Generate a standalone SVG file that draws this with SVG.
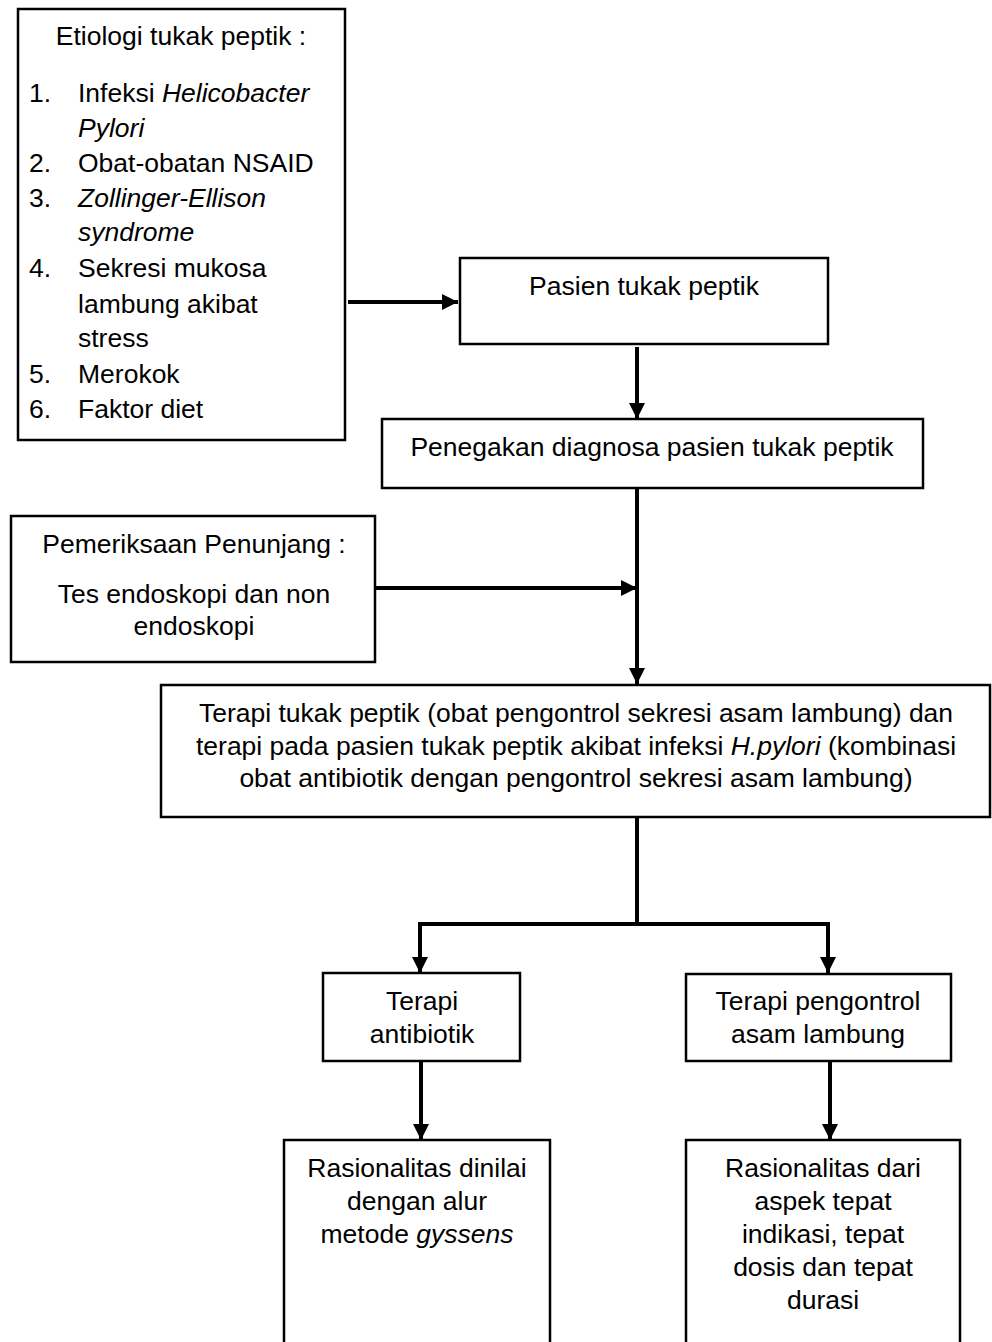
<svg xmlns="http://www.w3.org/2000/svg" width="992" height="1342" viewBox="0 0 992 1342">
<style>
.box{fill:#fff;stroke:#000;stroke-width:2.5}
.t{font-family:"Liberation Sans",Arial,sans-serif;font-size:26.5px;fill:#000}
.c{text-anchor:middle}
.i{font-style:italic}
.conn{fill:none;stroke:#000;stroke-width:4}
</style>
<defs>
<marker id="ah" markerUnits="userSpaceOnUse" markerWidth="16" markerHeight="16" refX="16" refY="8" orient="auto">
<path d="M0,0 L16,8 L0,16 z" fill="#000"/>
</marker>
</defs>
<rect width="992" height="1342" fill="#fff"/>
<g id="connectors">
<line class="conn" x1="348" y1="302" x2="458" y2="302" marker-end="url(#ah)"/>
<line class="conn" x1="637" y1="347" x2="637" y2="419" marker-end="url(#ah)"/>
<line class="conn" x1="637" y1="489" x2="637" y2="684" marker-end="url(#ah)"/>
<line class="conn" x1="376" y1="588" x2="637" y2="588" marker-end="url(#ah)"/>
<polyline class="conn" points="637,817 637,924"/>
<polyline class="conn" points="420,973 420,924 828,924 828,973" marker-end="url(#ah)"/>
<line class="conn" x1="420" y1="926" x2="420" y2="973" marker-end="url(#ah)"/>
<line class="conn" x1="421" y1="1061" x2="421" y2="1140" marker-end="url(#ah)"/>
<line class="conn" x1="830" y1="1062" x2="830" y2="1140" marker-end="url(#ah)"/>
</g>
<g id="etiologi">
<rect class="box" x="18" y="9" width="327" height="431"/>
<text class="t c" x="181" y="45">Etiologi tukak peptik :</text>
<text class="t" x="29" y="102">1.</text>
<text class="t" x="78" y="102">Infeksi <tspan class="i">Helicobacter</tspan></text>
<text class="t i" x="78" y="137">Pylori</text>
<text class="t" x="29" y="172">2.</text>
<text class="t" x="78" y="172">Obat-obatan NSAID</text>
<text class="t" x="29" y="207">3.</text>
<text class="t i" x="78" y="207">Zollinger-Ellison</text>
<text class="t i" x="78" y="241">syndrome</text>
<text class="t" x="29" y="277">4.</text>
<text class="t" x="78" y="277">Sekresi mukosa</text>
<text class="t" x="78" y="313">lambung akibat</text>
<text class="t" x="78" y="347">stress</text>
<text class="t" x="29" y="383">5.</text>
<text class="t" x="78" y="383">Merokok</text>
<text class="t" x="29" y="418">6.</text>
<text class="t" x="78" y="418">Faktor diet</text>
</g>
<g id="pasien">
<rect class="box" x="460" y="258" width="368" height="86"/>
<text class="t c" x="644" y="295">Pasien tukak peptik</text>
</g>
<g id="diagnosa">
<rect class="box" x="382" y="419" width="541" height="69"/>
<text class="t c" x="652" y="456">Penegakan diagnosa pasien tukak peptik</text>
</g>
<g id="penunjang">
<rect class="box" x="11" y="516" width="364" height="146"/>
<text class="t c" x="194" y="553">Pemeriksaan Penunjang :</text>
<text class="t c" x="194" y="603">Tes endoskopi dan non</text>
<text class="t c" x="194" y="635">endoskopi</text>
</g>
<g id="terapi">
<rect class="box" x="161" y="685" width="829" height="132"/>
<text class="t c" x="576" y="722">Terapi tukak peptik (obat pengontrol sekresi asam lambung) dan</text>
<text class="t c" x="576" y="755">terapi pada pasien tukak peptik akibat infeksi <tspan class="i">H.pylori</tspan> (kombinasi</text>
<text class="t c" x="576" y="787">obat antibiotik dengan pengontrol sekresi asam lambung)</text>
</g>
<g id="antibiotik">
<rect class="box" x="323" y="973" width="197" height="88"/>
<text class="t c" x="422" y="1010">Terapi</text>
<text class="t c" x="422" y="1043">antibiotik</text>
</g>
<g id="pengontrol">
<rect class="box" x="686" y="974" width="265" height="87"/>
<text class="t c" x="818" y="1010">Terapi pengontrol</text>
<text class="t c" x="818" y="1043">asam lambung</text>
</g>
<g id="gyssens">
<rect class="box" x="284" y="1140" width="266" height="220"/>
<text class="t c" x="417" y="1177">Rasionalitas dinilai</text>
<text class="t c" x="417" y="1210">dengan alur</text>
<text class="t c" x="417" y="1243">metode <tspan class="i">gyssens</tspan></text>
</g>
<g id="rasionalitas">
<rect class="box" x="686" y="1140" width="274" height="220"/>
<text class="t c" x="823" y="1177">Rasionalitas dari</text>
<text class="t c" x="823" y="1210">aspek tepat</text>
<text class="t c" x="823" y="1243">indikasi, tepat</text>
<text class="t c" x="823" y="1276">dosis dan tepat</text>
<text class="t c" x="823" y="1309">durasi</text>
</g>
</svg>
